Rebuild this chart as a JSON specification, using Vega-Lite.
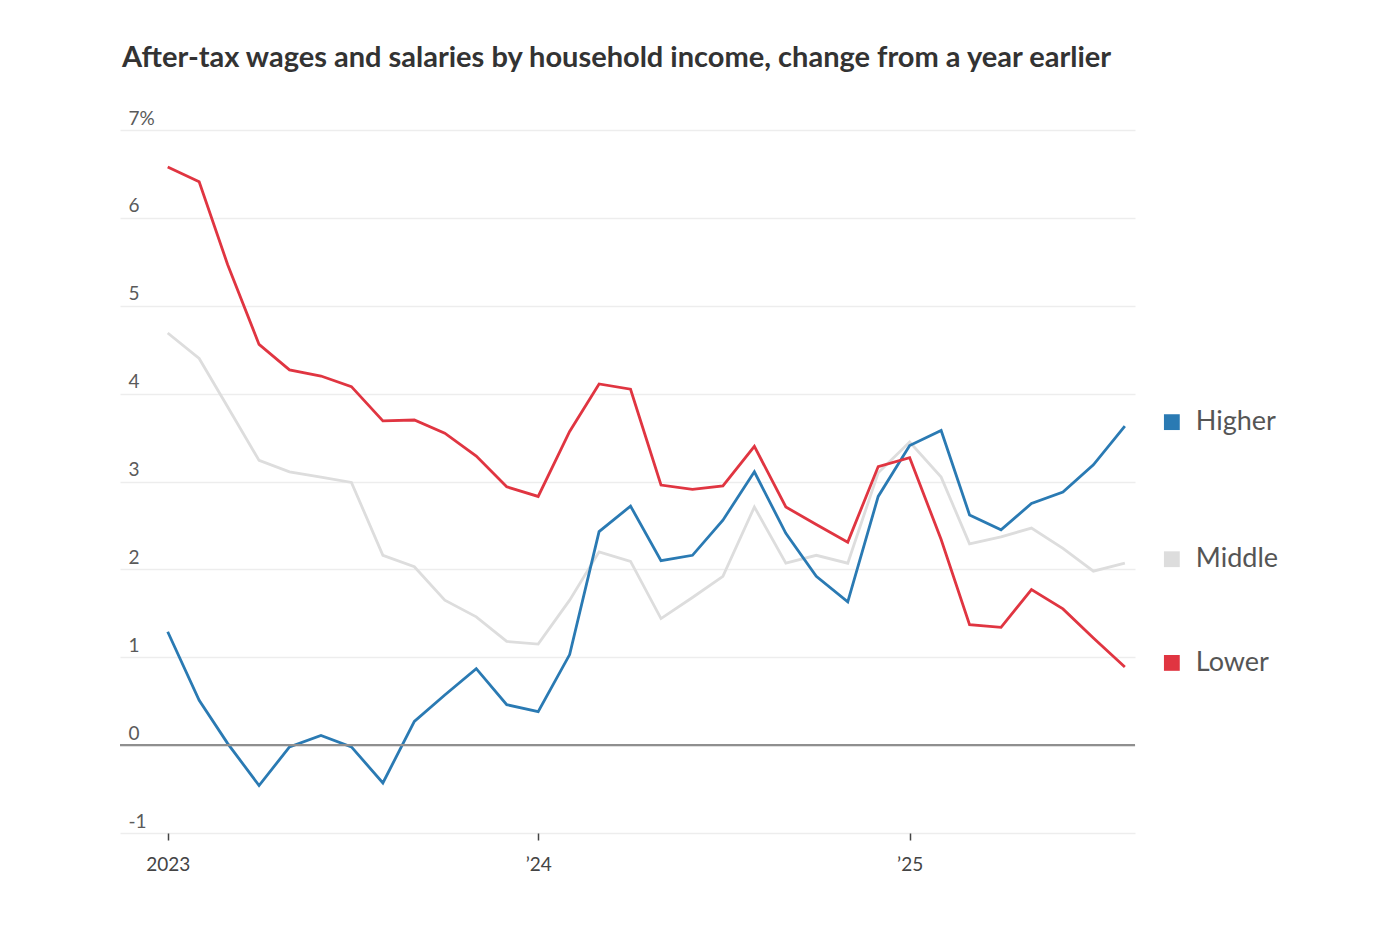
{
  "$schema": "https://vega.github.io/schema/vega-lite/v6.json",
  "autosize": {"type": "none"},
  "padding": {"left": 120, "top": 130, "right": 252, "bottom": 100},
  "width": 1015,
  "height": 703,
  "background": "white",
  "title": {
    "text": "After-tax wages and salaries by household income, change from a year earlier",
    "anchor": "start",
    "frame": "group",
    "font": "Lato",
    "fontSize": 29,
    "fontWeight": "bold",
    "color": "#333333",
    "offset": 36,
    "dx": 2
  },
  "config": {
    "view": {"stroke": null},
    "font": "Lato"
  },
  "datasets": {
    "series": [
      {"group": "Middle", "date": "2023-01-01", "value": 4.69},
      {"group": "Middle", "date": "2023-02-01", "value": 4.40},
      {"group": "Middle", "date": "2023-03-01", "value": 3.85},
      {"group": "Middle", "date": "2023-04-01", "value": 3.24},
      {"group": "Middle", "date": "2023-05-01", "value": 3.11},
      {"group": "Middle", "date": "2023-06-01", "value": 3.05},
      {"group": "Middle", "date": "2023-07-01", "value": 2.99},
      {"group": "Middle", "date": "2023-08-01", "value": 2.16},
      {"group": "Middle", "date": "2023-09-01", "value": 2.03},
      {"group": "Middle", "date": "2023-10-01", "value": 1.65},
      {"group": "Middle", "date": "2023-11-01", "value": 1.46},
      {"group": "Middle", "date": "2023-12-01", "value": 1.18},
      {"group": "Middle", "date": "2024-01-01", "value": 1.15},
      {"group": "Middle", "date": "2024-02-01", "value": 1.65},
      {"group": "Middle", "date": "2024-03-01", "value": 2.20},
      {"group": "Middle", "date": "2024-04-01", "value": 2.09},
      {"group": "Middle", "date": "2024-05-01", "value": 1.44},
      {"group": "Middle", "date": "2024-06-01", "value": 1.68},
      {"group": "Middle", "date": "2024-07-01", "value": 1.92},
      {"group": "Middle", "date": "2024-08-01", "value": 2.71},
      {"group": "Middle", "date": "2024-09-01", "value": 2.07},
      {"group": "Middle", "date": "2024-10-01", "value": 2.16},
      {"group": "Middle", "date": "2024-11-01", "value": 2.07},
      {"group": "Middle", "date": "2024-12-01", "value": 3.10},
      {"group": "Middle", "date": "2025-01-01", "value": 3.45},
      {"group": "Middle", "date": "2025-02-01", "value": 3.05},
      {"group": "Middle", "date": "2025-03-01", "value": 2.29},
      {"group": "Middle", "date": "2025-04-01", "value": 2.37},
      {"group": "Middle", "date": "2025-05-01", "value": 2.47},
      {"group": "Middle", "date": "2025-06-01", "value": 2.24},
      {"group": "Middle", "date": "2025-07-01", "value": 1.98},
      {"group": "Middle", "date": "2025-08-01", "value": 2.07},
      {"group": "Higher", "date": "2023-01-01", "value": 1.29},
      {"group": "Higher", "date": "2023-02-01", "value": 0.51},
      {"group": "Higher", "date": "2023-03-01", "value": 0.02},
      {"group": "Higher", "date": "2023-04-01", "value": -0.46},
      {"group": "Higher", "date": "2023-05-01", "value": -0.02},
      {"group": "Higher", "date": "2023-06-01", "value": 0.11},
      {"group": "Higher", "date": "2023-07-01", "value": -0.02},
      {"group": "Higher", "date": "2023-08-01", "value": -0.43},
      {"group": "Higher", "date": "2023-09-01", "value": 0.27},
      {"group": "Higher", "date": "2023-10-01", "value": 0.57},
      {"group": "Higher", "date": "2023-11-01", "value": 0.87},
      {"group": "Higher", "date": "2023-12-01", "value": 0.46},
      {"group": "Higher", "date": "2024-01-01", "value": 0.38},
      {"group": "Higher", "date": "2024-02-01", "value": 1.03},
      {"group": "Higher", "date": "2024-03-01", "value": 2.43},
      {"group": "Higher", "date": "2024-04-01", "value": 2.72},
      {"group": "Higher", "date": "2024-05-01", "value": 2.10},
      {"group": "Higher", "date": "2024-06-01", "value": 2.16},
      {"group": "Higher", "date": "2024-07-01", "value": 2.56},
      {"group": "Higher", "date": "2024-08-01", "value": 3.11},
      {"group": "Higher", "date": "2024-09-01", "value": 2.41},
      {"group": "Higher", "date": "2024-10-01", "value": 1.92},
      {"group": "Higher", "date": "2024-11-01", "value": 1.63},
      {"group": "Higher", "date": "2024-12-01", "value": 2.83},
      {"group": "Higher", "date": "2025-01-01", "value": 3.41},
      {"group": "Higher", "date": "2025-02-01", "value": 3.58},
      {"group": "Higher", "date": "2025-03-01", "value": 2.62},
      {"group": "Higher", "date": "2025-04-01", "value": 2.45},
      {"group": "Higher", "date": "2025-05-01", "value": 2.75},
      {"group": "Higher", "date": "2025-06-01", "value": 2.88},
      {"group": "Higher", "date": "2025-07-01", "value": 3.19},
      {"group": "Higher", "date": "2025-08-01", "value": 3.63},
      {"group": "Lower", "date": "2023-01-01", "value": 6.58},
      {"group": "Lower", "date": "2023-02-01", "value": 6.41},
      {"group": "Lower", "date": "2023-03-01", "value": 5.47},
      {"group": "Lower", "date": "2023-04-01", "value": 4.56},
      {"group": "Lower", "date": "2023-05-01", "value": 4.27},
      {"group": "Lower", "date": "2023-06-01", "value": 4.20},
      {"group": "Lower", "date": "2023-07-01", "value": 4.08},
      {"group": "Lower", "date": "2023-08-01", "value": 3.69},
      {"group": "Lower", "date": "2023-09-01", "value": 3.70},
      {"group": "Lower", "date": "2023-10-01", "value": 3.55},
      {"group": "Lower", "date": "2023-11-01", "value": 3.29},
      {"group": "Lower", "date": "2023-12-01", "value": 2.94},
      {"group": "Lower", "date": "2024-01-01", "value": 2.83},
      {"group": "Lower", "date": "2024-02-01", "value": 3.57},
      {"group": "Lower", "date": "2024-03-01", "value": 4.11},
      {"group": "Lower", "date": "2024-04-01", "value": 4.05},
      {"group": "Lower", "date": "2024-05-01", "value": 2.96},
      {"group": "Lower", "date": "2024-06-01", "value": 2.91},
      {"group": "Lower", "date": "2024-07-01", "value": 2.95},
      {"group": "Lower", "date": "2024-08-01", "value": 3.40},
      {"group": "Lower", "date": "2024-09-01", "value": 2.71},
      {"group": "Lower", "date": "2024-10-01", "value": 2.51},
      {"group": "Lower", "date": "2024-11-01", "value": 2.31},
      {"group": "Lower", "date": "2024-12-01", "value": 3.17},
      {"group": "Lower", "date": "2025-01-01", "value": 3.27},
      {"group": "Lower", "date": "2025-02-01", "value": 2.34},
      {"group": "Lower", "date": "2025-03-01", "value": 1.37},
      {"group": "Lower", "date": "2025-04-01", "value": 1.34},
      {"group": "Lower", "date": "2025-05-01", "value": 1.77},
      {"group": "Lower", "date": "2025-06-01", "value": 1.55},
      {"group": "Lower", "date": "2025-07-01", "value": 1.22},
      {"group": "Lower", "date": "2025-08-01", "value": 0.89}
    ],
    "zero": [{"value": 0}]
  },
  "layer": [
    {
      "data": {"name": "series"},
      "mark": {"type": "line", "strokeWidth": 2.8, "strokeJoin": "miter"},
      "encoding": {
        "x": {
          "field": "date",
          "type": "temporal",
          "scale": {
            "type": "utc",
            "domain": [
              {"year": 2022, "month": 11, "date": 15, "utc": true},
              {"year": 2025, "month": 8, "date": 11, "utc": true}
            ]
          },
          "axis": {
            "title": null,
            "values": [
              {"year": 2023, "month": 1, "date": 1, "utc": true},
              {"year": 2024, "month": 1, "date": 1, "utc": true},
              {"year": 2025, "month": 1, "date": 1, "utc": true}
            ],
            "labelExpr": "utcFormat(datum.value, '%Y') == '2023' ? '2023' : '\u2019' + utcFormat(datum.value, '%y')",
            "domain": false,
            "grid": false,
            "ticks": true,
            "tickSize": 7,
            "tickColor": "#444444",
            "tickWidth": 1.5,
            "labelFont": "Lato",
            "labelFontSize": 19,
            "labelColor": "#444444",
            "labelPadding": 15
          }
        },
        "y": {
          "field": "value",
          "type": "quantitative",
          "scale": {"domain": [-1, 7], "nice": false, "zero": false},
          "axis": {
            "title": null,
            "values": [-1, 0, 1, 2, 3, 4, 5, 6, 7],
            "labelExpr": "datum.value == 7 ? '7%' : '' + datum.value",
            "domain": false,
            "ticks": false,
            "grid": true,
            "gridColor": "#ededed",
            "gridWidth": 1.6,
            "labelAlign": "left",
            "labelBaseline": "bottom",
            "labelPadding": -8,
            "labelOffset": -2,
            "labelFont": "Lato",
            "labelFontSize": 19,
            "labelColor": "#5a5a5a"
          }
        },
        "color": {
          "field": "group",
          "type": "nominal",
          "scale": {
            "domain": ["Middle", "Higher", "Lower"],
            "range": ["#dddddd", "#2a7ab3", "#e03541"]
          },
          "legend": null
        }
      }
    },
    {
      "data": {"name": "zero"},
      "mark": {"type": "rule", "color": "#8f8f8f", "strokeWidth": 2.2},
      "encoding": {
        "y": {"field": "value", "type": "quantitative"}
      }
    },
    {
      "data": {"name": "series"},
      "transform": [
        {"filter": "utcyear(datum.date) == 2025 && utcmonth(datum.date) == 7"}
      ],
      "mark": {"type": "point", "shape": "square", "filled": true, "opacity": 1, "size": 250, "xOffset": 47, "yOffset": -4},
      "encoding": {
        "x": {"field": "date", "type": "temporal"},
        "y": {"field": "value", "type": "quantitative"},
        "color": {"field": "group", "type": "nominal", "legend": null}
      }
    },
    {
      "data": {"name": "series"},
      "transform": [
        {"filter": "utcyear(datum.date) == 2025 && utcmonth(datum.date) == 7"}
      ],
      "mark": {"type": "text", "align": "left", "baseline": "middle", "xOffset": 71, "yOffset": -4, "font": "Lato", "fontSize": 27, "color": "#555555"},
      "encoding": {
        "x": {"field": "date", "type": "temporal"},
        "y": {"field": "value", "type": "quantitative"},
        "text": {"field": "group", "type": "nominal"}
      }
    }
  ]
}
